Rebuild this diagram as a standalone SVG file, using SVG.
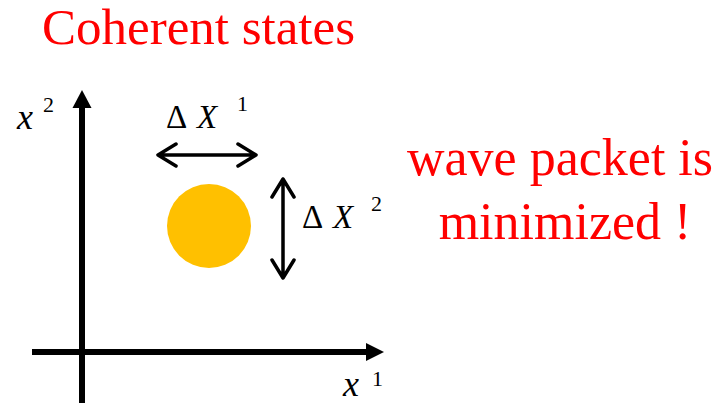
<svg xmlns="http://www.w3.org/2000/svg" width="723" height="403" viewBox="0 0 723 403">
<style>
.ax{stroke:#000;stroke-width:6;fill:none}
.dbl{stroke:#000;stroke-width:3.5;fill:none;stroke-linecap:round;stroke-linejoin:round}
text{font-family:'Liberation Serif','Times New Roman',Times,'DejaVu Serif',serif}
.r{fill:#ff0000}
</style>
<rect width="723" height="403" fill="#fff"/>
<g id="title"><text class="r" x="42" y="44" font-size="51">Coherent states</text></g>
<g id="note">
<text class="r" x="560" y="175" font-size="52" text-anchor="middle">wave packet is</text>
<text class="r" x="565" y="239" font-size="52" text-anchor="middle">minimized !</text>
</g>
<g id="connectors">
<line class="ax" x1="82" y1="105" x2="82" y2="403"/>
<polygon points="82,90 72.5,108 91.5,108" fill="#000"/>
<line class="ax" x1="32" y1="352" x2="368" y2="352"/>
<polygon points="384,352 366,343 366,361" fill="#000"/>
<path class="dbl" d="M158,155 H256 M176,144 L158,155 L176,166 M238,144 L256,155 L238,166"/>
<path class="dbl" d="M283,179 V278 M272,197 L283,179 L294,197 M272,260 L283,278 L294,260"/>
</g>
<g id="packet"><circle cx="209" cy="226" r="42" fill="#ffc000"/></g>
<g id="labels">
<text y="128" font-size="33"><tspan x="166">Δ</tspan><tspan font-style="italic" x="197">X</tspan><tspan x="237" y="111" font-size="22">1</tspan></text>
<text y="228" font-size="33"><tspan x="302">Δ</tspan><tspan font-style="italic" x="333">X</tspan><tspan x="371" y="211" font-size="22">2</tspan></text>
<text y="129" font-size="36"><tspan font-style="italic" x="17">x</tspan><tspan x="43" y="112" font-size="22">2</tspan></text>
<text y="396" font-size="36"><tspan font-style="italic" x="343">x</tspan><tspan x="372" y="386" font-size="22">1</tspan></text>
</g>
</svg>
